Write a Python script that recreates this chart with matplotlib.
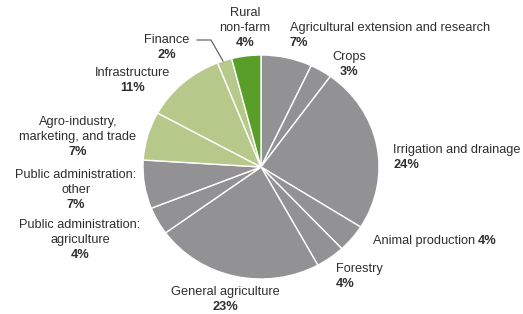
import matplotlib
matplotlib.use("Agg")
import matplotlib.pyplot as plt
from matplotlib.lines import Line2D

categories = ["Agricultural extension and research", "Crops", "Irrigation and drainage",
              "Animal production", "Forestry", "General agriculture",
              "Public administration:\nagriculture", "Public administration:\nother",
              "Agro-industry,\nmarketing, and trade", "Infrastructure", "Finance",
              "Rural\nnon-farm"]
shares = [7, 3, 24, 4, 4, 23, 4, 7, 7, 11, 2, 4]
groups = ["agri"] * 8 + ["related"] * 3 + ["nonfarm"]

GREY = "#929194"
LIGHT = "#b6c98a"
DARK = "#5a9e2a"
color_map = {"agri": GREY, "related": LIGHT, "nonfarm": DARK}
colors = [color_map[g] for g in groups]

fam = "Liberation Sans"
fs = 9.2
TXT = "#2e2e2e"
LS = 15  # line spacing in px

W, H = 523, 314
fig = plt.figure(figsize=(W / 100, H / 100), dpi=100)
ax = fig.add_axes([0, 0, 1, 1])
cx, cy, rx, ry = 261, 167, 118, 112
ax.pie(shares, colors=colors, startangle=90, counterclock=False,
       wedgeprops=dict(edgecolor="white", linewidth=1.0))
ax.set_aspect("auto")
ax.set_xlim(-cx / rx, (W - cx) / rx)
ax.set_ylim((cy - H) / ry, cy / ry)
ax.axis("off")

# label layout: (x, first line y, ha, percent inline?) in pixels
layout = [
    (290, 28, "left", False),
    (349, 57, "center", False),
    (393, 150, "left", False),
    (373, 241, "left", True),
    (336, 269, "left", False),
    (225, 292, "center", False),
    (80, 225, "center", False),
    (76, 175, "center", False),
    (78, 122, "center", False),
    (133, 73, "center", False),
    (167, 40, "center", False),
    (245, 13, "center", False),
]

def ft(px, py):
    return px / W, 1 - py / H

for cat, val, (nx, ny, ha, inline) in zip(categories, shares, layout):
    lines = cat.split("\n")
    if inline:
        t = fig.text(*ft(nx, ny), cat, ha="left", va="center", fontsize=fs,
                     family=fam, color=TXT)
        fig.canvas.draw()
        bb = t.get_window_extent()
        fig.text(bb.x1 / W + 3 / W, 1 - ny / H, f"{val}%", ha="left", va="center",
                 fontsize=fs, family=fam, color=TXT, fontweight="bold")
        continue
    for i, ln in enumerate(lines):
        fig.text(*ft(nx, ny + LS * i), ln, ha=ha, va="center", fontsize=fs,
                 family=fam, color=TXT)
    fig.text(*ft(nx, ny + LS * len(lines)), f"{val}%", ha=ha, va="center",
             fontsize=fs, family=fam, color=TXT, fontweight="bold")

# Finance leader line
fig.add_artist(Line2D([197 / W, 211 / W, 223 / W], [1 - 40 / H, 1 - 40 / H, 1 - 61 / H],
                      color="#555555", linewidth=0.8))

fig.savefig("out.png", dpi=100)
